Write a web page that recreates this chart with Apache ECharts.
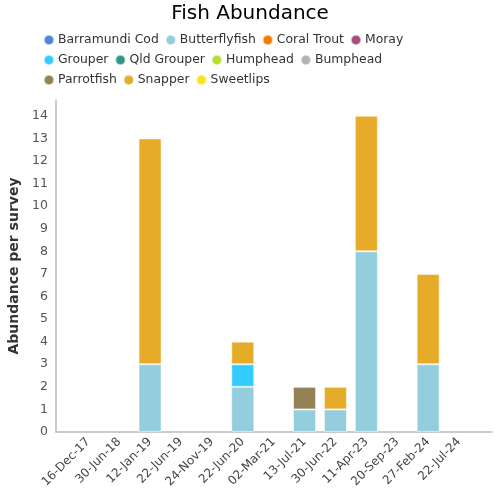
<!DOCTYPE html>
<html><head><meta charset="utf-8">
<script src="https://cdn.jsdelivr.net/npm/echarts@6/dist/echarts.min.js"></script>
<style>html,body{margin:0;padding:0;background:#fff}#c{width:500px;height:500px}</style>
</head><body><div id="c"></div>
<script>
const categories = ['16-Dec-17','30-Jun-18','12-Jan-19','22-Jun-19','24-Nov-19','22-Jun-20','02-Mar-21','13-Jul-21','30-Jun-22','11-Apr-23','20-Sep-23','27-Feb-24','22-Jul-24'];
const seriesNames = ['Barramundi Cod','Butterflyfish','Coral Trout','Moray','Grouper','Qld Grouper','Humphead','Bumphead','Parrotfish','Snapper','Sweetlips'];
const seriesColors = ['#4d88d6','#94cddb','#f57a00','#a64d79','#33ccff','#339488','#b5e02a','#b3b3b3','#948254','#e6ab29','#ffe01a'];
const barramundiCod = [0,0,0,0,0,0,0,0,0,0,0,0,0];
const butterflyfish = [0,0,3,0,0,2,0,1,1,8,0,3,0];
const coralTrout    = [0,0,0,0,0,0,0,0,0,0,0,0,0];
const moray         = [0,0,0,0,0,0,0,0,0,0,0,0,0];
const grouper       = [0,0,0,0,0,1,0,0,0,0,0,0,0];
const qldGrouper    = [0,0,0,0,0,0,0,0,0,0,0,0,0];
const humphead      = [0,0,0,0,0,0,0,0,0,0,0,0,0];
const bumphead      = [0,0,0,0,0,0,0,0,0,0,0,0,0];
const parrotfish    = [0,0,0,0,0,0,0,1,0,0,0,0,0];
const snapper       = [0,0,10,0,0,1,0,0,1,6,0,4,0];
const sweetlips     = [0,0,0,0,0,0,0,0,0,0,0,0,0];
const seriesValues = [barramundiCod,butterflyfish,coralTrout,moray,grouper,qldGrouper,humphead,bumphead,parrotfish,snapper,sweetlips];

const FONT = "'DejaVu Sans', Verdana, sans-serif";
const Y_MAX = 14.7;
const chart = echarts.init(document.getElementById('c'), null, {renderer:'canvas'});
chart.setOption({
  animation:false,
  color: seriesColors,
  textStyle:{fontFamily:FONT},
  title:{text:'Fish Abundance', left:'center', top:-1, textStyle:{fontFamily:FONT, fontSize:20, fontWeight:'normal', color:'#000'}},
  legend:{
    left:38, top:28, width:390, itemGap:6, itemWidth:10, itemHeight:10, icon:'circle',
    textStyle:{fontFamily:FONT, fontSize:12.4, lineHeight:14, color:'#333', padding:[0,0,0,-1]},
    data: seriesNames
  },
  grid:[
    {left:56, right:8, top:100, bottom:68, containLabel:false, outerBoundsMode:'none'},
    {left:72.8, right:25.5, top:100, bottom:68, containLabel:false, outerBoundsMode:'none'}
  ],
  xAxis:[
    {
      type:'category', gridIndex:0, data:categories,
      axisLine:{lineStyle:{color:'#bbb', width:1.5}},
      axisTick:{show:false}, axisLabel:{show:false}
    },
    {
      type:'category', gridIndex:1, data:categories,
      axisLine:{show:false},
      axisTick:{show:false},
      axisLabel:{rotate:45, interval:0, fontFamily:FONT, fontSize:12, color:'#444', margin:8}
    }
  ],
  yAxis:[
    {
      type:'value', gridIndex:0, min:0, max:Y_MAX, interval:1,
      name:'Abundance per survey', nameLocation:'middle', nameGap:35, nameMoveOverlap:false,
      nameTextStyle:{fontFamily:FONT, fontSize:14, fontWeight:'bold', color:'#333'},
      axisLine:{show:true, lineStyle:{color:'#bbb', width:1.5}},
      axisTick:{show:false}, splitLine:{show:false},
      axisLabel:{showMaxLabel:false, fontFamily:FONT, fontSize:12.5, color:'#555', margin:8}
    },
    {
      type:'value', gridIndex:1, min:0, max:Y_MAX, interval:1, show:false,
      splitLine:{show:false}
    }
  ],
  series: seriesNames.map((n,i)=>({
    name:n, type:'bar', stack:'total', barWidth:23, xAxisIndex:1, yAxisIndex:1,
    data: seriesValues[i].map(v => v === 0 ? null : v),
    itemStyle:{borderColor:'rgba(255,255,255,0.5)', borderWidth:1}
  }))
});
</script></body></html>
